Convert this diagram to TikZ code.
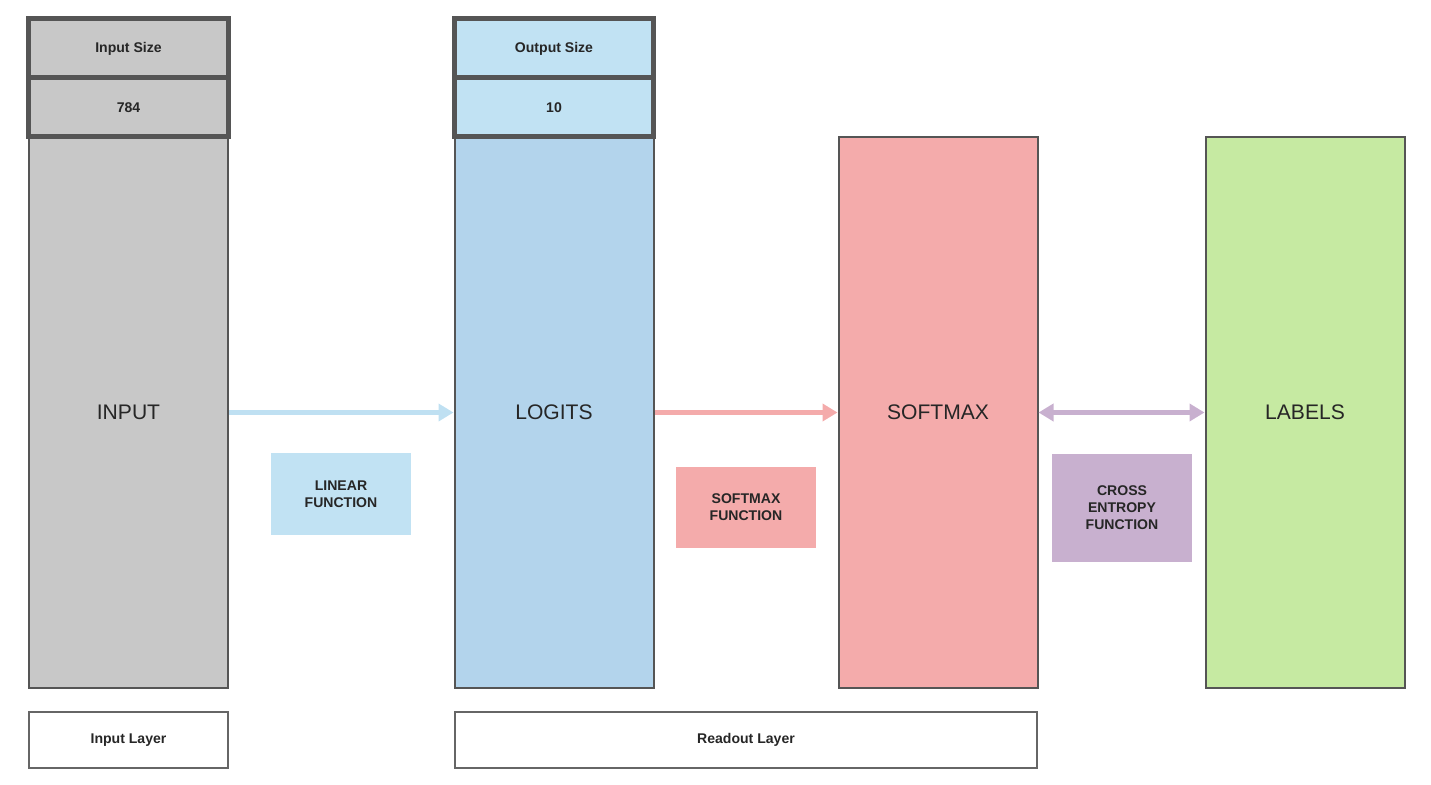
\documentclass[tikz,border=0pt]{standalone}
\usepackage{fontspec}
\setmainfont{Liberation Sans}
\usetikzlibrary{arrows.meta}
\definecolor{inputgray}{HTML}{C8C8C8}
\definecolor{logitblue}{HTML}{B3D4EC}
\definecolor{headblue}{HTML}{C1E2F3}
\definecolor{softpink}{HTML}{F4ABAB}
\definecolor{labelgreen}{HTML}{C6EAA2}
\definecolor{xentpurple}{HTML}{C8B0CF}
\definecolor{framegray}{HTML}{555555}
\begin{document}
\begin{tikzpicture}[x=0.2mm,y=-0.2mm,
  column/.style={draw=framegray,line width=0.4mm,minimum width=39.8mm,minimum height=110.2mm,
    inner sep=0pt,font=\fontsize{12}{14}\selectfont,text=black!85},
  headcell/.style={draw=framegray,line width=1mm,minimum width=39.8mm,minimum height=11.8mm,
    inner sep=0pt,font=\fontsize{8}{10}\selectfont\bfseries,text=black!85},
  funcbox/.style={minimum width=28mm,inner sep=0pt,align=center,
    font=\fontsize{8}{9.6}\selectfont\bfseries,text=black!85},
  layerbox/.style={draw=framegray!90,line width=0.4mm,minimum height=11.2mm,inner sep=0pt,
    font=\fontsize{8}{10}\selectfont\bfseries,text=black!85},
  flow/.style={line width=1mm,-{Triangle[length=3mm,width=3.4mm]}},
  bothflow/.style={line width=1mm,{Triangle[length=3mm,width=3.4mm]}-{Triangle[length=3mm,width=3.4mm]}}]
\useasboundingbox (0,0) rectangle (1431,785);

\node[column,fill=inputgray] (input) at (128.5,412.5) {INPUT};
\node[column,fill=logitblue] (logits) at (554,412.5) {LOGITS};
\node[column,fill=softpink] (softmax) at (938,412.5) {SOFTMAX};
\node[column,fill=labelgreen] (labels) at (1305,412.5) {LABELS};

\node[headcell,fill=inputgray] (insize) at (128.5,48.5) {Input Size};
\node[headcell,fill=inputgray] (invalue) at (128.5,107.5) {784};
\node[headcell,fill=headblue] (outsize) at (554,48.5) {Output Size};
\node[headcell,fill=headblue] (outvalue) at (554,107.5) {10};

\draw[flow,draw=headblue!85!logitblue] (input.east) -- (logits.west);
\draw[flow,draw=softpink] (logits.east) -- (softmax.west);
\draw[bothflow,draw=xentpurple] (softmax.east) -- (labels.west);

\node[funcbox,fill=headblue,minimum height=16.4mm] (linear) at (341,494) {LINEAR\\FUNCTION};
\node[funcbox,fill=softpink,minimum height=16.2mm] (softfn) at (746,507.5) {SOFTMAX\\FUNCTION};
\node[funcbox,fill=xentpurple,minimum height=21.6mm] (xent) at (1122,508) {CROSS\\ENTROPY\\FUNCTION};

\node[layerbox,minimum width=39.8mm] (inlayer) at (128.5,740) {Input Layer};
\node[layerbox,minimum width=116.4mm] (readout) at (746,740) {Readout Layer};
\end{tikzpicture}
\end{document}
